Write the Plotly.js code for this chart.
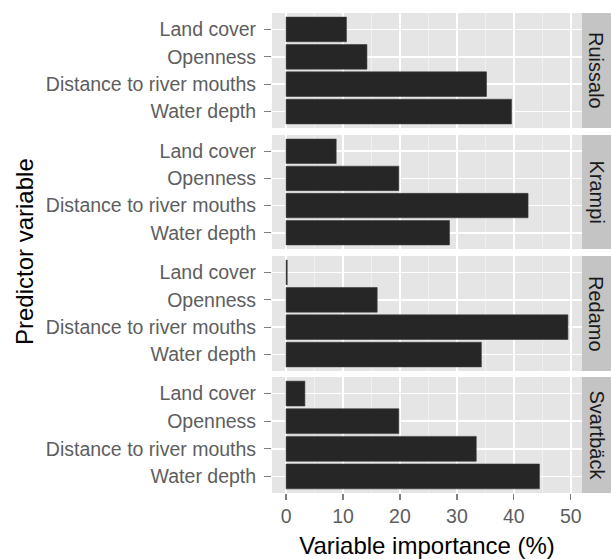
<!DOCTYPE html>
<html>
<head>
<meta charset="utf-8">
<script src="https://cdn.plot.ly/plotly-3.0.1.min.js"></script>
<style>html,body{margin:0;padding:0;background:#fff;}#chart{width:611px;height:559px;}</style>
</head>
<body>
<div id="chart"></div>
<script>
// Data
var sites = ["Ruissalo", "Krampi", "Redamo", "Svartbäck"];
var predictors = ["Land cover", "Openness", "Distance to river mouths", "Water depth"];
var ruissalo = [10.6, 14.2, 35.2, 39.6];
var krampi = [8.8, 19.8, 42.5, 28.7];
var redamo = [0.2, 16.0, 49.5, 34.3];
var svartback = [3.3, 19.8, 33.4, 44.5];
var xTicks = [0, 10, 20, 30, 40, 50];
var xTitle = "Variable importance (%)";
var yTitle = "Predictor variable";

var values = [ruissalo, krampi, redamo, svartback];

// Layout geometry (pixels)
var W = 611, H = 559;
var mL = 272, mR = 29, mT = 13, mB = 66;
var plotH = H - mT - mB;
var panelPx = [[13, 128], [135, 249], [256, 371], [377, 493]];
function dom(p) { return [(493 - p[1]) / plotH, (493 - p[0]) / plotH]; }

var traces = [];
var layout = {
  width: W, height: H,
  margin: {l: mL, r: mR, t: mT, b: mB},
  paper_bgcolor: "#ffffff",
  plot_bgcolor: "#e5e5e5",
  showlegend: false,
  bargap: 0.1,
  font: {family: "Liberation Sans, Arial, sans-serif", color: "#4d4d4d"},
  shapes: [],
  annotations: []
};

var catOrder = predictors.slice().reverse();
var xRange = [-2.475, 51.975];

for (var i = 0; i < sites.length; i++) {
  var sfx = i === 0 ? "" : String(i + 1);
  traces.push({
    type: "bar",
    orientation: "h",
    x: values[i],
    y: predictors,
    xaxis: "x" + sfx,
    yaxis: "y" + sfx,
    width: 0.9,
    marker: {color: "#262626", line: {color: "#3a3a3a", width: 0.6}},
    hoverinfo: "x+y"
  });
  var isBottom = (i === sites.length - 1);
  layout["xaxis" + sfx] = {
    domain: [0, 1],
    anchor: "y" + sfx,
    range: xRange,
    tickvals: xTicks,
    ticktext: xTicks.map(String),
    showticklabels: isBottom,
    ticks: isBottom ? "outside" : "",
    ticklen: 6, tickwidth: 1.3, tickcolor: "#7f7f7f",
    tickfont: {size: 19.5, color: "#5e5e5e"},
    showgrid: true, gridcolor: "#ffffff", gridwidth: 1.6,
    minor: {tickvals: [5, 15, 25, 35, 45], showgrid: true, gridcolor: "#f2f2f2", gridwidth: 0.8, ticks: ""},
    zeroline: false, showline: false,
    fixedrange: true
  };
  if (isBottom) {
    layout["xaxis" + sfx].title = {text: xTitle, font: {size: 24, color: "#000000"}, standoff: 10};
  }
  layout["yaxis" + sfx] = {
    domain: dom(panelPx[i]),
    anchor: "x" + sfx,
    type: "category",
    categoryorder: "array",
    categoryarray: catOrder,
    range: [-0.6, 3.6],
    ticks: "outside", ticklen: 7, tickwidth: 1.3, tickcolor: "#7f7f7f",
    tickfont: {size: 19.5, color: "#5e5e5e"},
    ticklabelstandoff: 4,
    showgrid: true, gridcolor: "#ffffff", gridwidth: 1.6,
    zeroline: false, showline: false,
    fixedrange: true
  };
  var d = dom(panelPx[i]);
  layout.shapes.push({
    type: "rect", xref: "paper", yref: "paper",
    x0: 1, x1: 1 + (W - 582) / (W - mL - mR), y0: d[0], y1: d[1],
    fillcolor: "#c4c4c4", line: {width: 0}, layer: "below"
  });
  layout.annotations.push({
    text: sites[i], xref: "paper", yref: "paper",
    x: 1 + ((W - 582) / 2) / (W - mL - mR), y: (d[0] + d[1]) / 2,
    xanchor: "center", yanchor: "middle", showarrow: false, textangle: 90,
    font: {size: 20, color: "#1a1a1a"}
  });
}

layout.annotations.push({
  text: yTitle, xref: "paper", yref: "paper",
  x: (24 - mL) / (W - mL - mR), y: (493 - 252) / plotH,
  xanchor: "center", yanchor: "middle", showarrow: false, textangle: -90,
  font: {size: 24, color: "#000000"}
});

Plotly.newPlot("chart", traces, layout, {displayModeBar: false, staticPlot: true});
</script>
</body>
</html>
